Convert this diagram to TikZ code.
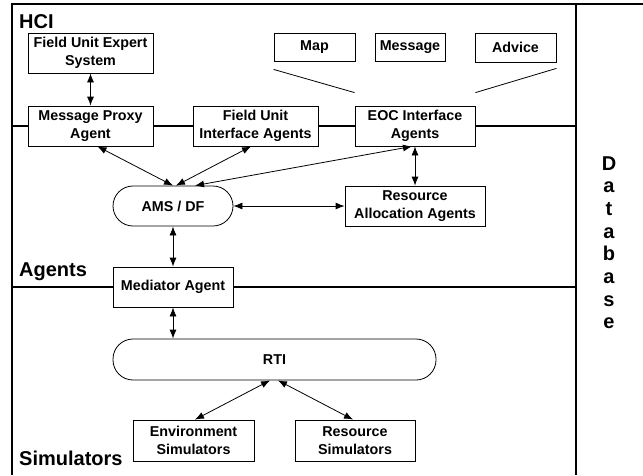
\documentclass[tikz,border=0pt]{standalone}
\usepackage{fontspec}
\setmainfont{Liberation Sans}
\usetikzlibrary{arrows.meta,calc,positioning}

\begin{document}
\begin{tikzpicture}[x=1pt,y=-1pt,>={Latex[length=9pt,width=7pt]},
    box/.style={draw,fill=white,line width=0.8pt,align=center,inner sep=0pt,
      font=\bfseries\fontsize{14.3}{18}\selectfont},
    pill/.style={box,rounded corners=20pt},
    layer/.style={anchor=base west,inner sep=0pt,font=\bfseries\fontsize{20}{24}\selectfont},
    link/.style={<->,line width=0.8pt}]
    \useasboundingbox (0,0) rectangle (643,475);
    % frame and layer lines
    \draw[line width=1.2pt] (643,4) -- (12,4) -- (12,475);
    \draw[line width=1.2pt] (576,4) -- (576,475);
    \draw[line width=1.2pt] (12,126) -- (576,126);
    \draw[line width=1.2pt] (12,287) -- (576,287);
    \node[layer] (hci) at (19,28) {HCI};
    \node[layer] (agents) at (19,276) {Agents};
    \node[layer] (sims) at (19,465) {Simulators};
    % database column
    \foreach \ch [count=\i from 0] in {D,a,t,a,b,a,s,e}
      \node[anchor=base,inner sep=0pt,font=\bfseries\fontsize{20}{24}\selectfont]
        (db\i) at (609,{170+22.7*\i}) {\ch};
    % HCI layer
    \node[box,minimum width=125pt,minimum height=40pt] (fues) at (90.5,53) {Field Unit Expert\\System};
    \node[box,minimum width=81pt,minimum height=28pt] (map) at (314.5,47) {Map};
    \node[box,minimum width=70pt,minimum height=28pt] (msg) at (410,47) {Message};
    \node[box,minimum width=81pt,minimum height=29pt] (advice) at (515.5,47.5) {Advice};
    % interface agents
    \node[box,minimum width=125pt,minimum height=40pt] (proxy) at (90.5,126) {Message Proxy\\Agent};
    \node[box,minimum width=125pt,minimum height=40pt] (fuia) at (255.5,126) {Field Unit\\Interface Agents};
    \node[box,minimum width=120pt,minimum height=40pt] (eoc) at (415,126) {EOC Interface\\Agents};
    % agents layer
    \node[pill,minimum width=120pt,minimum height=40pt] (ams) at (173,206) {AMS / DF};
    \node[box,minimum width=140pt,minimum height=40pt] (raa) at (415,206) {Resource\\Allocation Agents};
    \node[box,minimum width=120pt,minimum height=40pt] (med) at (173,287) {Mediator Agent};
    % simulators layer
    \node[pill,minimum width=323pt,minimum height=41pt] (rti) at (274.5,359.5) {RTI};
    \node[box,minimum width=121pt,minimum height=41pt] (envsim) at (193.5,440.5) {Environment\\Simulators};
    \node[box,minimum width=120pt,minimum height=41pt] (ressim) at (355,440.5) {Resource\\Simulators};
    % EOC display lines
    \coordinate (mapl) at ($(map.south west)+(0,8)$);
    \coordinate (eocl) at ($(eoc.north west)+(0,-13)$);
    \coordinate (eocr) at ($(eoc.north east)+(0,-13)$);
    \coordinate (advl) at ($(advice.south east)+(0,6)$);
    \draw[line width=0.8pt] (mapl) -- (eocl);
    \draw[line width=0.8pt] (eocr) -- (advl);
    % links
    \draw[link] (fues.south) -- (proxy.north);
    \draw[link] ([xshift=7pt]proxy.south) -- (ams.north);
    \draw[link] ([xshift=-4.5pt]fuia.south) -- ([xshift=3pt]ams.north);
    \draw[link] ([xshift=-3pt]eoc.south) -- ([xshift=22pt]ams.north);
    \draw[link] (eoc.south) -- (raa.north);
    \draw[link] (ams.east) -- (raa.west);
    \draw[link] (ams.south) -- (med.north);
    \draw[link] (med.south) -- (med.south |- rti.north);
    \draw[link] ([xshift=-4.5pt]rti.south) -- ([xshift=1.5pt]envsim.north);
    \draw[link] ([xshift=3.5pt]rti.south) -- ([xshift=-2pt]ressim.north);
\end{tikzpicture}
\end{document}
